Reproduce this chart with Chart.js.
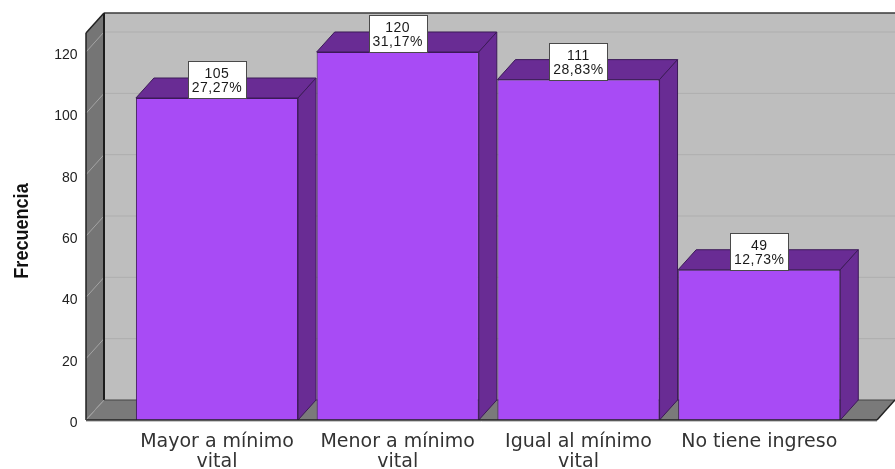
<!DOCTYPE html>
<html>
<head>
<meta charset="utf-8">
<style>
  html, body { margin: 0; padding: 0; background: #fff; overflow: hidden; }
</style>
<script src="https://cdn.jsdelivr.net/npm/chart.js@4"></script>
</head>
<body>
<canvas id="chart" width="895" height="469"></canvas>
<script>
const categories = [['Mayor a mínimo', 'vital'], ['Menor a mínimo', 'vital'], ['Igual al mínimo', 'vital'], ['No tiene ingreso']];
const counts = [105, 120, 111, 49];
const percents = ['27,27%', '31,17%', '28,83%', '12,73%'];
const yTicks = [0, 20, 40, 60, 80, 100, 120];
const yTitle = 'Frecuencia';

const DEPTH_X = 18;
const DEPTH_Y = 20;
const WALL_LEFT = 86;
const FLOOR_RIGHT = 877;

function poly(ctx, pts, fill, stroke) {
    ctx.beginPath();
    pts.forEach((p, i) => i ? ctx.lineTo(p[0], p[1]) : ctx.moveTo(p[0], p[1]));
    ctx.closePath();
    if (fill) { ctx.fillStyle = fill; ctx.fill(); }
    if (stroke) { ctx.strokeStyle = stroke; ctx.lineWidth = 1; ctx.stroke(); }
}

function line(ctx, x1, y1, x2, y2, color, width) {
    ctx.beginPath();
    ctx.moveTo(x1, y1);
    ctx.lineTo(x2, y2);
    ctx.strokeStyle = color;
    ctx.lineWidth = width;
    ctx.stroke();
}

// back wall, side wall and floor of the 3D box
const boxPlugin = {
    id: 'box',
    beforeDatasetsDraw(chart) {
        const { ctx, chartArea, scales: { y } } = chart;
        const top = chartArea.top, bottom = chartArea.bottom, right = chart.width;
        ctx.save();
        poly(ctx, [[WALL_LEFT + DEPTH_X, top - DEPTH_Y], [right, top - DEPTH_Y], [right, bottom - DEPTH_Y], [WALL_LEFT + DEPTH_X, bottom - DEPTH_Y]], '#bebebe');
        poly(ctx, [[WALL_LEFT, top], [WALL_LEFT + DEPTH_X, top - DEPTH_Y], [WALL_LEFT + DEPTH_X, bottom - DEPTH_Y], [WALL_LEFT, bottom]], '#757575');
        poly(ctx, [[WALL_LEFT, bottom], [WALL_LEFT + DEPTH_X, bottom - DEPTH_Y], [right, bottom - DEPTH_Y], [FLOOR_RIGHT, bottom]], '#7a7a7a');
        yTicks.forEach(v => {
            const py = y.getPixelForValue(v);
            if (v > 0) line(ctx, WALL_LEFT + DEPTH_X, py - DEPTH_Y, right, py - DEPTH_Y, '#aeaeae', 1);
            line(ctx, WALL_LEFT, py, WALL_LEFT + DEPTH_X, py - DEPTH_Y, '#a4a4a4', 1);
        });
        line(ctx, WALL_LEFT + DEPTH_X, top - DEPTH_Y, right, top - DEPTH_Y, '#3a3a3a', 1.5);
        line(ctx, WALL_LEFT + DEPTH_X, top - DEPTH_Y, WALL_LEFT + DEPTH_X, bottom - DEPTH_Y, '#1c1c1c', 2);
        line(ctx, WALL_LEFT + DEPTH_X, bottom - DEPTH_Y, right, bottom - DEPTH_Y, '#444', 1);
        line(ctx, WALL_LEFT, top, WALL_LEFT + DEPTH_X, top - DEPTH_Y, '#222', 1.5);
        line(ctx, WALL_LEFT, top, WALL_LEFT, bottom, '#222', 1.5);
        line(ctx, WALL_LEFT, bottom, WALL_LEFT + DEPTH_X, bottom - DEPTH_Y, '#9a9a9a', 1);
        line(ctx, FLOOR_RIGHT, bottom, right, bottom - DEPTH_Y, '#222', 1.5);

        // top and side faces of each bar
        chart.getDatasetMeta(0).data.forEach(bar => {
            const l = bar.x - bar.width / 2, r = bar.x + bar.width / 2;
            poly(ctx, [[l, bar.y], [l + DEPTH_X, bar.y - DEPTH_Y], [r + DEPTH_X, bar.y - DEPTH_Y], [r, bar.y]], '#692c94', '#3c1a58');
            poly(ctx, [[r, bar.y], [r + DEPTH_X, bar.y - DEPTH_Y], [r + DEPTH_X, bottom - DEPTH_Y], [r, bottom]], '#692c94', '#3c1a58');
        });
        ctx.restore();
    },
    afterDatasetsDraw(chart) {
        const { ctx, chartArea } = chart;
        ctx.save();
        line(ctx, WALL_LEFT, chartArea.bottom, FLOOR_RIGHT, chartArea.bottom, '#222', 1.5);
        line(ctx, WALL_LEFT, chartArea.bottom + 1.5, FLOOR_RIGHT, chartArea.bottom + 1.5, '#c8c8c8', 1);
        ctx.font = '14px "Liberation Sans"';
        ctx.letterSpacing = '0.5px';
        ctx.textAlign = 'center';
        ctx.textBaseline = 'middle';
        chart.getDatasetMeta(0).data.forEach((bar, i) => {
            const w = 58, h = 37;
            const bx = Math.round(bar.x - w / 2) + 0.5, by = Math.round(bar.y - h) + 0.5;
            ctx.fillStyle = '#fff';
            ctx.fillRect(bx, by, w, h);
            ctx.strokeStyle = '#4a4a4a';
            ctx.lineWidth = 1;
            ctx.strokeRect(bx, by, w, h);
            ctx.fillStyle = '#1a1a1a';
            ctx.fillText(String(counts[i]), bar.x, by + 13);
            ctx.fillText(percents[i], bar.x, by + 27);
        });
        ctx.restore();

        // axis title is tall and squeezed along its length, the scale title can't do that
        ctx.save();
        ctx.translate(22, 231);
        ctx.rotate(-Math.PI / 2);
        ctx.scale(0.86, 1);
        ctx.font = 'bold 21px "Liberation Sans"';
        ctx.textAlign = 'center';
        ctx.textBaseline = 'middle';
        ctx.fillStyle = '#111';
        ctx.fillText(yTitle, 0, 0);
        ctx.restore();
    }
};

new Chart(document.getElementById('chart'), {
    type: 'bar',
    plugins: [boxPlugin],
    data: {
        labels: categories,
        datasets: [{
            label: yTitle,
            data: counts,
            backgroundColor: '#a84bf5',
            borderColor: '#3c1a58',
            borderWidth: 1,
            categoryPercentage: 1,
            barPercentage: 0.897
        }]
    },
    options: {
        responsive: false,
        animation: false,
        layout: { padding: { top: 33, right: 45.4, left: 0, bottom: 0 } },
        plugins: { legend: { display: false }, tooltip: { enabled: false } },
        scales: {
            x: {
                grid: { display: false },
                border: { display: false },
                afterFit: s => { s.height = 49; s.paddingLeft = 0; s.paddingRight = 0; },
                ticks: {
                    color: '#333',
                    font: { family: '"DejaVu Sans"', size: 19, lineHeight: 1.05 },
                    padding: 4,
                    maxRotation: 0,
                    autoSkip: false
                }
            },
            y: {
                min: 0,
                max: 126.2,
                grid: { display: false },
                border: { display: false },
                afterFit: s => { s.width = 126.6; s.paddingTop = 0; s.paddingBottom = 0; },
                afterBuildTicks: s => { s.ticks = yTicks.map(v => ({ value: v })); },
                ticks: {
                    color: '#222',
                    // blank first line pushes the number a few px below its tick, as in the original
                    callback: v => ['', String(v)],
                    font: { family: '"Liberation Sans"', size: 14, lineHeight: 0.45 },
                    padding: 41
                }
            }
        }
    }
});
</script>
</body>
</html>
